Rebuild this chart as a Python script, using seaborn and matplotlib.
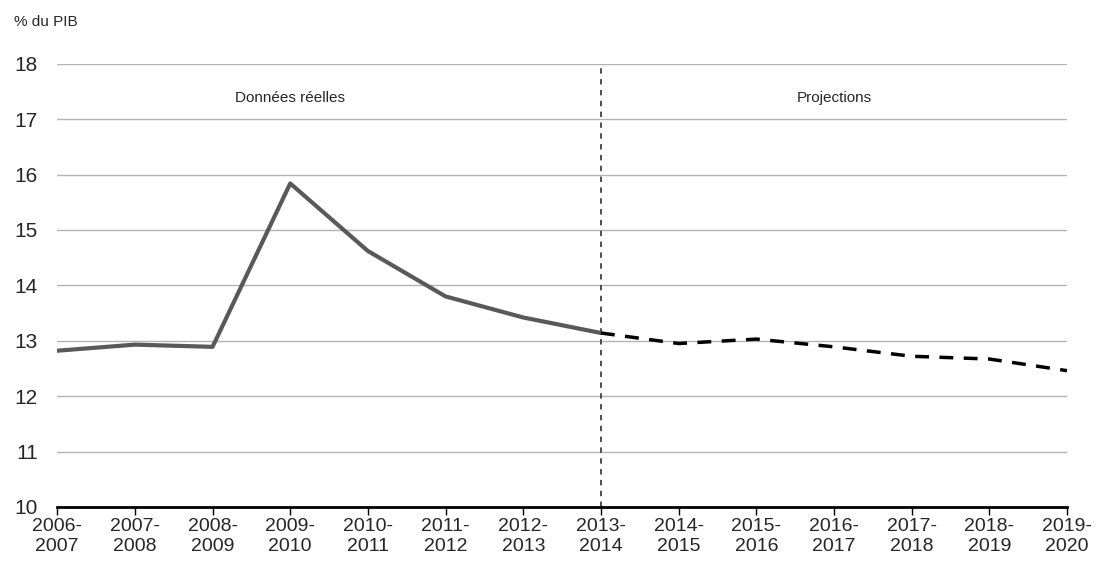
import matplotlib
matplotlib.use("Agg")
import matplotlib.pyplot as plt
import seaborn as sns
import pandas as pd

years = list(range(2006, 2020))
tick_labels = [f"{y}-\n{y+1}" for y in years]
actual_idx = list(range(0, 8))
actual_vals = [12.82, 12.93, 12.89, 15.84, 14.62, 13.80, 13.42, 13.14]
proj_idx = list(range(7, 14))
proj_vals = [13.14, 12.95, 13.03, 12.89, 12.72, 12.67, 12.46]

sns.set_theme(style="white")
plt.rcParams['font.family'] = ['Liberation Sans', 'DejaVu Sans']

fig = plt.figure(figsize=(11, 5.8), dpi=100)
ax = fig.add_axes([0.052, 0.126, 0.918, 0.764])

df_a = pd.DataFrame({"x": actual_idx, "y": actual_vals})
df_p = pd.DataFrame({"x": proj_idx, "y": proj_vals})
sns.lineplot(data=df_a, x="x", y="y", ax=ax, color="#595959", linewidth=3)
sns.lineplot(data=df_p, x="x", y="y", ax=ax, color="black", linewidth=2.5,
             linestyle=(0, (4, 3)))

ax.axvline(7, color="#404040", linewidth=1.3, linestyle=(0, (3, 3)), zorder=1)

ax.set_xlim(0, 13)
ax.set_ylim(10, 18)
ax.set_yticks(range(10, 19))
ax.set_xticks(range(14))
ax.set_xticklabels(tick_labels)
ax.grid(axis="y", color="#b3b3b3", linewidth=1)
ax.set_axisbelow(True)
for s in ["left", "right", "top"]:
    ax.spines[s].set_visible(False)
ax.spines["bottom"].set_color("black")
ax.spines["bottom"].set_linewidth(2)
ax.tick_params(axis="x", bottom=True, length=6, width=1, color="black",
               direction="out", labelsize=14, pad=2)
ax.tick_params(axis="y", left=False, labelsize=15, pad=8)
ax.set_xlabel("")
ax.set_ylabel("")

ax.text(3, 17.39, "Données réelles", ha="center", va="center", fontsize=11)
ax.text(10, 17.39, "Projections", ha="center", va="center", fontsize=11)
fig.text(0.013, 0.962, "% du PIB", ha="left", va="center", fontsize=11)

fig.savefig("out.png", dpi=100)
